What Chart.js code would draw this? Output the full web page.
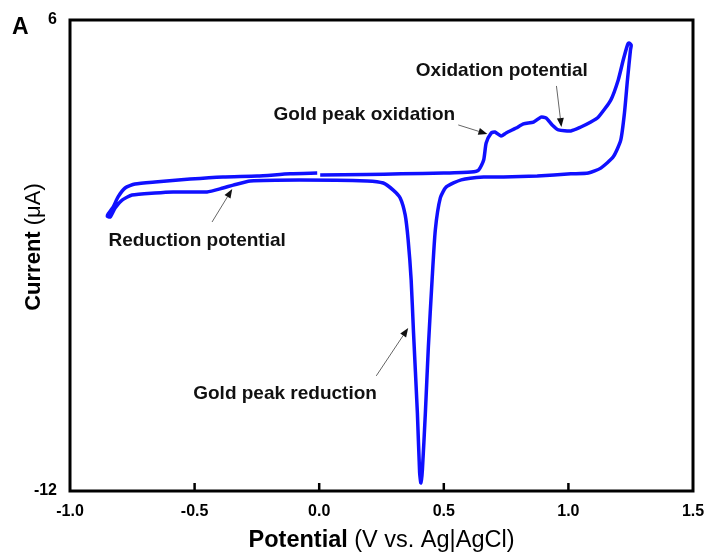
<!DOCTYPE html>
<html>
<head>
<meta charset="utf-8">
<script src="https://cdn.jsdelivr.net/npm/chart.js@4"></script>
<style>
html, body { margin: 0; padding: 0; background: #fff; }
</style>
</head>
<body>
<canvas id="myChart" width="711" height="559"></canvas>
<script>
// Cyclic voltammogram, points in scan order:
// anodic from 0 V up to 1.25 V, cathodic back down to -0.85 V, anodic again to 0 V
let potential = [
    0.004, 0.19, 0.33, 0.50, 0.61, 0.64, 0.66, 0.67, 0.69, 0.705,
    0.73, 0.75, 0.79, 0.82, 0.86, 0.89, 0.91, 0.935, 0.96, 1.01,
    1.05, 1.09, 1.12, 1.17, 1.20, 1.22, 1.237, 1.243, 1.252,
    1.249, 1.237, 1.225, 1.21, 1.18, 1.13, 1.08, 1.01, 0.875, 0.74,
    0.66, 0.57, 0.51, 0.486, 0.466, 0.453, 0.438, 0.426, 0.414, 0.408,
    0.403, 0.394, 0.378, 0.369, 0.357, 0.345, 0.325, 0.297, 0.257, 0.193,
    -0.08, -0.277, -0.345, -0.386, -0.45, -0.586, -0.659, -0.751, -0.791, -0.819,
    -0.839, -0.851,
    -0.847, -0.827, -0.807, -0.779, -0.739, -0.659, -0.518, -0.386, -0.249, -0.116,
    -0.008
];
let current = [
    0.08, 0.10, 0.12, 0.15, 0.19, 0.27, 0.65, 1.30, 1.68, 1.72,
    1.57, 1.68, 1.87, 2.03, 2.10, 2.29, 2.26, 1.99, 1.80, 1.76,
    1.91, 2.10, 2.29, 2.94, 3.71, 4.47, 5.04, 5.12, 5.04,
    4.85, 3.71, 2.45, 1.41, 0.77, 0.34, 0.15, 0.12, 0.04, 0.00,
    0.00, -0.11, -0.38, -0.80, -2.02, -3.93, -6.50, -9.02, -11.20, -11.69,
    -11.30, -9.02, -5.85, -3.93, -2.41, -1.45, -0.80, -0.50, -0.23, -0.15,
    -0.11, -0.15, -0.31, -0.42, -0.57, -0.57, -0.61, -0.69, -0.88, -1.18,
    -1.53, -1.49,
    -1.41, -1.15, -0.76, -0.42, -0.27, -0.19, -0.08, 0.00, 0.04, 0.12,
    0.15
];
let xTicks = [-1.0, -0.5, 0.0, 0.5, 1.0, 1.5];
let yTicks = [-12, 6];

// labels with arrows (in data units)
let notes = [
    { text: 'Oxidation potential', x: 0.733, y: 4.05, from: [0.952, 3.48], to: [0.972, 1.91] },
    { text: 'Gold peak oxidation', x: 0.181, y: 2.37, from: [0.558, 1.99], to: [0.675, 1.64] },
    { text: 'Reduction potential', x: -0.49, y: -2.44, from: [-0.43, -1.72], to: [-0.349, -0.46] },
    { text: 'Gold peak reduction', x: -0.137, y: -8.29, from: [0.229, -7.60], to: [0.357, -5.77] }
];

const FONT = '"Liberation Sans", Arial, sans-serif';

let points = potential.map((v, i) => ({ x: v, y: current[i] }));

function drawArrow(ctx, x1, y1, x2, y2){
    let a = Math.atan2(y2 - y1, x2 - x1);
    let len = 9, half = 3.5;
    ctx.strokeStyle = '#666';
    ctx.lineWidth = 1;
    ctx.beginPath();
    ctx.moveTo(x1, y1);
    ctx.lineTo(x2 - Math.cos(a) * len, y2 - Math.sin(a) * len);
    ctx.stroke();
    ctx.fillStyle = '#111';
    ctx.beginPath();
    ctx.moveTo(x2, y2);
    ctx.lineTo(x2 - Math.cos(a) * len - Math.sin(a) * half, y2 - Math.sin(a) * len + Math.cos(a) * half);
    ctx.lineTo(x2 - Math.cos(a) * len + Math.sin(a) * half, y2 - Math.sin(a) * len - Math.cos(a) * half);
    ctx.closePath();
    ctx.fill();
}

// bold part + normal part, centred on (cx, cy)
function mixedText(ctx, bold, normal, cx, cy, size){
    ctx.font = 'bold ' + size + 'px ' + FONT;
    let w1 = ctx.measureText(bold).width;
    ctx.font = size + 'px ' + FONT;
    let w2 = ctx.measureText(normal).width;
    let start = cx - (w1 + w2) / 2;
    ctx.textAlign = 'left';
    ctx.textBaseline = 'alphabetic';
    ctx.fillStyle = '#000';
    ctx.font = 'bold ' + size + 'px ' + FONT;
    ctx.fillText(bold, start, cy);
    ctx.font = size + 'px ' + FONT;
    ctx.fillText(normal, start + w1, cy);
}

let decorations = {
    id: 'decorations',
    afterDraw(chart){
        let ctx = chart.ctx;
        let area = chart.chartArea;
        let xs = chart.scales.x, ys = chart.scales.y;
        ctx.save();

        // frame
        ctx.strokeStyle = '#000';
        ctx.lineWidth = 3;
        ctx.strokeRect(area.left, area.top, area.right - area.left, area.bottom - area.top);

        // inward ticks on the bottom axis
        ctx.lineWidth = 2.5;
        xTicks.slice(1, -1).forEach(v => {
            let px = xs.getPixelForValue(v);
            ctx.beginPath();
            ctx.moveTo(px, area.bottom);
            ctx.lineTo(px, area.bottom - 8);
            ctx.stroke();
        });

        // axis titles
        mixedText(ctx, 'Potential ', '(V vs. Ag|AgCl)', (area.left + area.right) / 2, 547, 23.5);
        ctx.save();
        ctx.translate(40, 247);
        ctx.rotate(-Math.PI / 2);
        mixedText(ctx, 'Current ', '(\u03bcA)', 0, 0, 22);
        ctx.restore();

        // panel letter
        ctx.font = 'bold 23px ' + FONT;
        ctx.textAlign = 'left';
        ctx.textBaseline = 'alphabetic';
        ctx.fillText('A', 12, 34);

        // annotations
        notes.forEach(n => {
            ctx.font = 'bold 19px ' + FONT;
            ctx.fillStyle = '#111';
            ctx.textAlign = 'center';
            ctx.textBaseline = 'middle';
            ctx.fillText(n.text, xs.getPixelForValue(n.x), ys.getPixelForValue(n.y));
            drawArrow(ctx,
                xs.getPixelForValue(n.from[0]), ys.getPixelForValue(n.from[1]),
                xs.getPixelForValue(n.to[0]), ys.getPixelForValue(n.to[1]));
        });
        ctx.restore();
    }
};

let ctx = document.getElementById('myChart').getContext('2d');
let chart = new Chart(ctx, {
    type: 'scatter',
    data: {
        datasets: [{
            label: 'CV',
            data: points,
            showLine: true,
            borderColor: 'rgb(16, 16, 255)',
            borderWidth: 3.5,
            pointRadius: 0,
            tension: 0.2,
            fill: false
        }]
    },
    options: {
        responsive: false,
        animation: false,
        layout: { padding: { left: 0, top: 20, right: 18, bottom: 0 } },
        plugins: { legend: { display: false }, tooltip: { enabled: false } },
        scales: {
            x: {
                type: 'linear',
                min: -1.0,
                max: 1.5,
                afterBuildTicks: s => { s.ticks = xTicks.map(v => ({ value: v })); },
                afterFit: s => { s.height = 68; s.paddingLeft = 0; s.paddingRight = 0; },
                grid: { display: false, drawTicks: false },
                border: { display: false },
                ticks: {
                    color: '#000',
                    font: { family: FONT, size: 16, weight: 'bold' },
                    padding: 11,
                    maxRotation: 0,
                    autoSkip: false,
                    callback: v => Number(v).toFixed(1)
                }
            },
            y: {
                type: 'linear',
                min: -12,
                max: 6,
                afterBuildTicks: s => { s.ticks = yTicks.map(v => ({ value: v })); },
                afterFit: s => { s.width = 70; s.paddingTop = 0; s.paddingBottom = 0; },
                grid: { display: false, drawTicks: false },
                border: { display: false },
                ticks: {
                    color: '#000',
                    font: { family: FONT, size: 16, weight: 'bold' },
                    padding: 13,
                    callback: v => String(v)
                }
            }
        }
    },
    plugins: [decorations]
});
</script>
</body>
</html>
